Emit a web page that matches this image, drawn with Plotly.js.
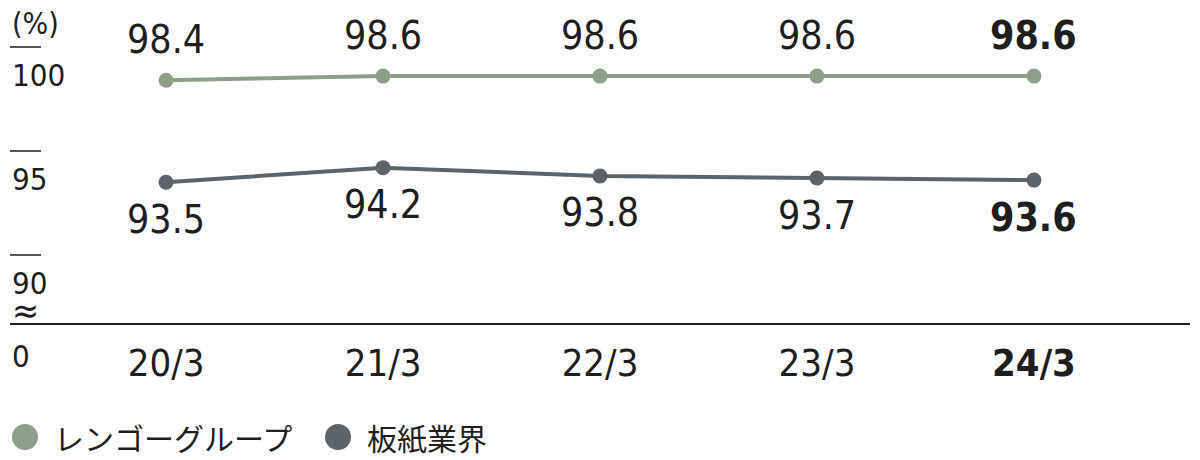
<!DOCTYPE html>
<html>
<head>
<meta charset="utf-8">
<script src="https://cdn.plot.ly/plotly-3.0.1.min.js"></script>
<style>
  html, body { margin: 0; padding: 0; background: #fff; }
  #plot { width: 1200px; height: 460px; }
</style>
</head>
<body>
<div id="plot"></div>
<script>
const categories = ["20/3", "21/3", "22/3", "23/3", "24/3"];
const rengo = [98.4, 98.6, 98.6, 98.6, 98.6];
const industry = [93.5, 94.2, 93.8, 93.7, 93.6];
const seriesNames = ["レンゴーグループ", "板紙業界"];
const yTicks = [100, 95, 90];

const GREEN = "#8e9f89",
  DARK = "#5c6369",
  INK = "#1e1e1e";
const NUM_FONT = "DejaVu Sans Condensed, sans-serif";
const JP_FONT = "Noto Sans CJK JP, sans-serif";

const xIdx = categories.map((c, i) => i);
const last = categories.length - 1;
const bold = (s, i) => (i === last ? "<b>" + s + "</b>" : s);

function lineTrace(values, color) {
  return {
    x: xIdx,
    y: values,
    type: "scatter",
    mode: "lines+markers",
    line: { color: color, width: 4 },
    marker: { color: color, size: 15 },
    showlegend: false,
    hoverinfo: "skip",
  };
}

const annotations = [];
// value labels
rengo.forEach((v, i) => {
  annotations.push({
    x: i, y: v, xref: "x", yref: "y", yshift: 41,
    text: bold(v.toFixed(1), i), showarrow: false,
    font: { family: NUM_FONT, size: 39, color: INK },
  });
});
industry.forEach((v, i) => {
  annotations.push({
    x: i, y: v, xref: "x", yref: "y", yshift: -37,
    text: bold(v.toFixed(1), i), showarrow: false,
    font: { family: NUM_FONT, size: 39, color: INK },
  });
});
// y axis labels under their tick bars; the lowest one carries the axis-break sign
yTicks.forEach((t, k) => {
  const isLow = k === yTicks.length - 1;
  annotations.push({
    x: 0, y: t, xref: "paper", yref: "y", xanchor: "left", align: "left",
    yshift: isLow ? -43 : -28,
    text: isLow
      ? "<span style='font-size:31px'>" + t + "</span><br><span style='font-size:36px'>≈</span>"
      : String(t),
    showarrow: false,
    font: { family: NUM_FONT, size: isLow ? 22 : 31, color: INK },
  });
});
annotations.push({
  x: 0, y: yTicks[0], xref: "paper", yref: "y", xanchor: "left", yshift: 24,
  text: "(%)", showarrow: false,
  font: { family: NUM_FONT, size: 30, color: INK },
});
annotations.push({
  x: 0, y: 0, xref: "paper", yref: "paper", xanchor: "left", yanchor: "middle", xshift: 0, yshift: -33,
  text: "0", showarrow: false,
  font: { family: NUM_FONT, size: 31, color: INK },
});

// legend (drawn by hand so the dots can be as big as in the reference)
const legendX = [0.0127, 0.278];
const legendY = -0.353;
const shapes = [];
seriesNames.forEach((name, k) => {
  const c = k === 0 ? GREEN : DARK;
  shapes.push({
    type: "circle", xref: "paper", yref: "paper",
    xsizemode: "pixel", ysizemode: "pixel",
    xanchor: legendX[k], yanchor: legendY,
    x0: -13, x1: 13, y0: -13, y1: 13,
    fillcolor: c, line: { width: 0 },
  });
  annotations.push({
    x: legendX[k], y: legendY, xref: "paper", yref: "paper",
    xanchor: "left", yanchor: "middle", xshift: 27,
    text: name, showarrow: false,
    font: { family: JP_FONT, size: 30, color: INK },
  });
});

// tick bars above y labels
yTicks.forEach((t) => {
  shapes.push({
    type: "line", xref: "paper", yref: "y",
    x0: 0, x1: 31 / 1180, y0: t, y1: t,
    line: { color: INK, width: 1.5 },
  });
});

const layout = {
  width: 1200,
  height: 460,
  margin: { l: 10, r: 10, t: 0, b: 137 },
  paper_bgcolor: "#fff",
  plot_bgcolor: "#fff",
  showlegend: false,
  xaxis: {
    range: [-0.719, 4.719],
    tickvals: xIdx,
    ticktext: categories.map(bold),
    tickfont: { family: NUM_FONT, size: 38, color: INK },
    showgrid: false,
    zeroline: false,
    showline: true,
    linecolor: INK,
    linewidth: 2,
    ticks: "",
    ticklabelstandoff: 5,
  },
  yaxis: {
    range: [86.73, 102.26],
    showgrid: false,
    zeroline: false,
    showticklabels: false,
    ticks: "",
  },
  shapes: shapes,
  annotations: annotations,
};

Plotly.newPlot("plot", [lineTrace(rengo, GREEN), lineTrace(industry, DARK)], layout, {
  displayModeBar: false,
  staticPlot: true,
});
</script>
</body>
</html>
